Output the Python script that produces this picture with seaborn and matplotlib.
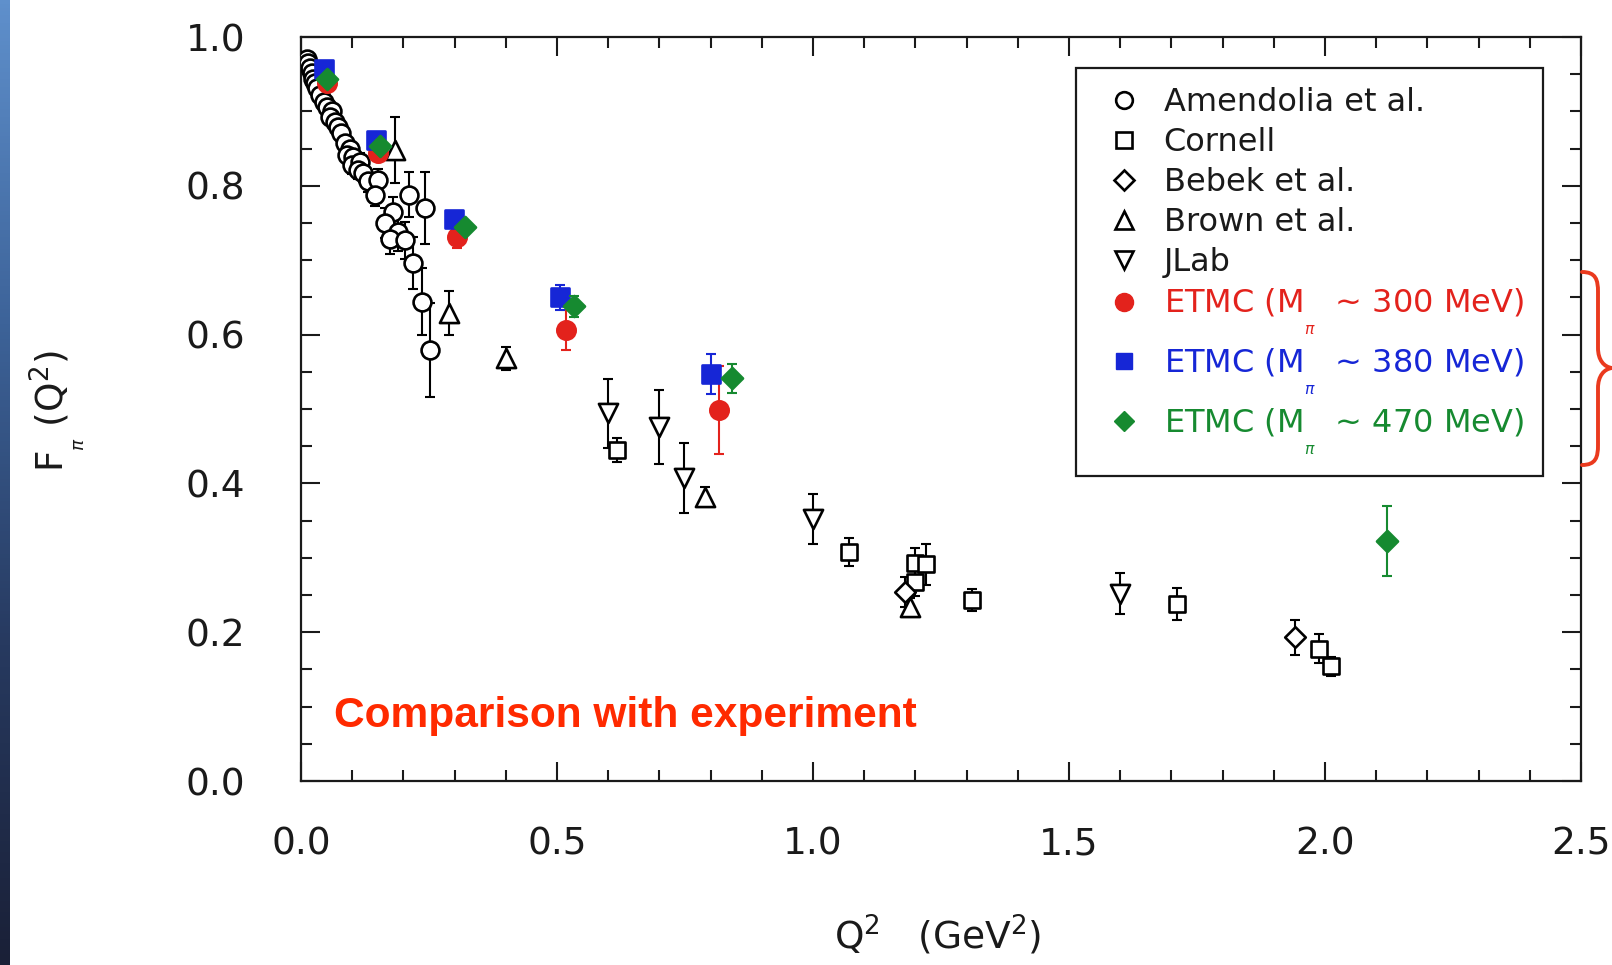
import numpy as np
import pandas as pd
import matplotlib
matplotlib.use("Agg")
import matplotlib.pyplot as plt
import seaborn as sns
from matplotlib.lines import Line2D
from matplotlib.path import Path
from matplotlib.patches import PathPatch
from matplotlib.colors import LinearSegmentedColormap

# ---------------- data ----------------
amend_q2 = [0.011, 0.014, 0.018, 0.021, 0.024, 0.027, 0.031, 0.037, 0.044, 0.050,
            0.060, 0.057, 0.066, 0.073, 0.079, 0.086, 0.096, 0.089, 0.102, 0.099,
            0.115, 0.112, 0.122, 0.131, 0.151, 0.145, 0.210, 0.242, 0.180, 0.164,
            0.190, 0.174, 0.203, 0.219, 0.236, 0.252]
amend_f = [0.971, 0.965, 0.958, 0.951, 0.944, 0.938, 0.931, 0.922, 0.913, 0.906,
           0.900, 0.893, 0.886, 0.879, 0.871, 0.857, 0.850, 0.841, 0.839, 0.828,
           0.832, 0.821, 0.817, 0.806, 0.808, 0.788, 0.788, 0.770, 0.765, 0.750,
           0.738, 0.729, 0.727, 0.696, 0.644, 0.579]
amend_err = [0.006, 0.006, 0.006, 0.006, 0.007, 0.007, 0.007, 0.008, 0.008, 0.008,
             0.010, 0.010, 0.010, 0.010, 0.010, 0.010, 0.010, 0.010, 0.010, 0.012,
             0.012, 0.012, 0.012, 0.015, 0.015, 0.015, 0.030, 0.048, 0.020, 0.020,
             0.025, 0.020, 0.025, 0.035, 0.045, 0.063]

cornell_q2 = [0.618, 1.071, 1.200, 1.220, 1.200, 1.311, 1.711, 1.989, 2.011]
cornell_f = [0.445, 0.308, 0.293, 0.291, 0.268, 0.243, 0.238, 0.178, 0.154]
cornell_err = [0.016, 0.019, 0.020, 0.027, 0.020, 0.015, 0.021, 0.020, 0.013]

bebek_q2 = [1.180, 1.941]
bebek_f = [0.254, 0.193]
bebek_err = [0.020, 0.024]

brown_q2 = [0.184, 0.289, 0.400, 0.789, 1.189]
brown_f = [0.848, 0.629, 0.568, 0.382, 0.234]
brown_err = [0.044, 0.030, 0.016, 0.013, 0.012]

jlab_q2 = [0.600, 0.699, 0.748, 1.000, 1.599]
jlab_f = [0.494, 0.476, 0.407, 0.352, 0.252]
jlab_err = [0.046, 0.050, 0.047, 0.034, 0.027]

etmc300_q2 = [0.050, 0.151, 0.305, 0.518, 0.817]
etmc300_f = [0.938, 0.844, 0.731, 0.606, 0.499]
etmc300_err = [0.008, 0.008, 0.014, 0.027, 0.059]

etmc380_q2 = [0.045, 0.146, 0.299, 0.506, 0.801]
etmc380_f = [0.957, 0.862, 0.755, 0.650, 0.547]
etmc380_err = [0.006, 0.008, 0.008, 0.017, 0.027]

etmc470_q2 = [0.051, 0.154, 0.320, 0.534, 0.841, 2.122]
etmc470_f = [0.944, 0.853, 0.744, 0.638, 0.541, 0.322]
etmc470_err = [0.006, 0.008, 0.008, 0.014, 0.020, 0.047]

series_names = ["Amendolia et al.", "Cornell", "Bebek et al.", "Brown et al.", "JLab"]
etmc_masses = ["300", "380", "470"]
x_ticks = [0.0, 0.5, 1.0, 1.5, 2.0, 2.5]
x_tick_labels = ["0.0", "0.5", "1.0", "1.5", "2.0", "2.5"]
y_ticks = [0.0, 0.2, 0.4, 0.6, 0.8, 1.0]
y_tick_labels = ["0.0", "0.2", "0.4", "0.6", "0.8", "1.0"]

RED = "#e3221c"
BLUE = "#1626d6"
GREEN = "#168a30"
INK = "#1a1a1a"

# ---------------- figure ----------------
sns.set_theme(style="ticks")
plt.rcParams["font.family"] = ["DejaVu Sans"]
plt.rcParams["mathtext.fontset"] = "dejavusans"


def mathtext_ok(s):
    f = plt.figure()
    f.text(0, 0, s, fontsize=20)
    try:
        f.canvas.draw()
        return True
    except Exception:
        return False
    finally:
        plt.close(f)


M_SUB = r"M$_{\underset{\pi}{\underset{\ }{\ }}}$"
if not mathtext_ok(M_SUB):
    M_SUB = r"M$_{\underset{\pi}{\ }}$"
legend_labels = series_names + [f"ETMC ({M_SUB}  ~ {m} MeV)" for m in etmc_masses]

W, H = 1612, 965
fig = plt.figure(figsize=(W / 100, H / 100), dpi=100)
fig.patch.set_facecolor("white")

# left gradient strip (slide decoration)
gax = fig.add_axes([0, 0, 10 / W, 1])
cmap = LinearSegmentedColormap.from_list("strip", ["#5f90cc", "#3d6399", "#273a60", "#1a2037"])
gax.imshow(np.linspace(0, 1, 256).reshape(-1, 1), aspect="auto", cmap=cmap)
gax.set_axis_off()

ax = fig.add_axes([301 / W, 1 - 781 / H, 1280 / W, 744 / H])
ax.set_facecolor("white")

cap = 3.8
elw = 1.5
mew = 1.9


def series(q2, f, err, marker, size, face, edge, ecol, z):
    ax.errorbar(q2, f, yerr=err, fmt="none", ecolor=ecol, elinewidth=elw,
                capsize=cap, capthick=elw, zorder=z)
    df = pd.DataFrame({"q2": q2, "f": f})
    sns.scatterplot(data=df, x="q2", y="f", marker=marker, s=size, color=face,
                    edgecolor=edge, linewidth=mew, ax=ax, zorder=z + 0.5, legend=False)


series(amend_q2, amend_f, amend_err, "o", 165, "white", "black", "black", 3)
series(cornell_q2, cornell_f, cornell_err, "s", 140, "white", "black", "black", 3)
series(bebek_q2, bebek_f, bebek_err, "D", 110, "white", "black", "black", 3)
series(brown_q2, brown_f, brown_err, "^", 190, "white", "black", "black", 3)
series(jlab_q2, jlab_f, jlab_err, "v", 190, "white", "black", "black", 3)
series(etmc300_q2, etmc300_f, etmc300_err, "o", 175, RED, RED, RED, 5)
series(etmc380_q2, etmc380_f, etmc380_err, "s", 150, BLUE, BLUE, BLUE, 6)
series(etmc470_q2, etmc470_f, etmc470_err, "D", 115, GREEN, GREEN, GREEN, 7)

ax.set_xlim(0, 2.5)
ax.set_ylim(0, 1.0)
ax.set_xticks(x_ticks)
ax.set_xticklabels(x_tick_labels)
ax.set_yticks(y_ticks)
ax.set_yticklabels(y_tick_labels)
ax.set_xticks(np.arange(0, 2.5001, 0.1), minor=True)
ax.set_yticks(np.arange(0, 1.0001, 0.05), minor=True)
ax.tick_params(which="both", direction="in", top=True, right=True,
               colors=INK, width=1.5)
ax.tick_params(which="major", length=14)
ax.tick_params(which="minor", length=8)
ax.tick_params(axis="y", which="major", labelsize=27, pad=40, labelcolor=INK)
ax.tick_params(axis="x", which="major", labelsize=27, pad=33, labelcolor=INK)
for sp in ax.spines.values():
    sp.set_linewidth(1.6)
    sp.set_color(INK)
    sp.set_visible(True)

ax.set_xlabel(r"Q$^{2}$   (GeV$^{2}$)", fontsize=27, color=INK)
ax.xaxis.set_label_coords((938 - 301) / 1280, (781 - 935) / 744)
ax.xaxis.label.set_va("center")
ax.set_ylabel(r"F$_{\underset{\pi}{\ }}$ (Q$^{2}$)", fontsize=27, color=INK)
ax.yaxis.set_label_coords((57 - 301) / 1280, (781 - 411) / 744)
ax.yaxis.label.set_va("center")
ax.yaxis.label.set_ha("center")

ax.text((334 - 301) / 1280, (781 - 716) / 744, "Comparison with experiment",
        transform=ax.transAxes, ha="left", va="center", fontsize=30.6,
        fontweight="bold", color="#ff2a00", family=["Liberation Sans", "DejaVu Sans"])

# legend
handles = [
    Line2D([], [], ls="none", marker="o", ms=12, mfc="white", mec="black", mew=mew),
    Line2D([], [], ls="none", marker="s", ms=11.5, mfc="white", mec="black", mew=mew),
    Line2D([], [], ls="none", marker="D", ms=10, mfc="white", mec="black", mew=mew),
    Line2D([], [], ls="none", marker="^", ms=13, mfc="white", mec="black", mew=mew),
    Line2D([], [], ls="none", marker="v", ms=13, mfc="white", mec="black", mew=mew),
    Line2D([], [], ls="none", marker="o", ms=13, mfc=RED, mec=RED),
    Line2D([], [], ls="none", marker="s", ms=12, mfc=BLUE, mec=BLUE),
    Line2D([], [], ls="none", marker="D", ms=10, mfc=GREEN, mec=GREEN),
]
leg = ax.legend(handles, legend_labels, loc="upper left",
                bbox_to_anchor=(1076 / W, 1 - 68 / H), bbox_transform=fig.transFigure,
                borderaxespad=0, fontsize=23, frameon=True, fancybox=False,
                framealpha=1, edgecolor=INK, borderpad=0.6,
                handlelength=1.8, handletextpad=0.34, labelspacing=0.28)
leg.get_frame().set_linewidth(1.6)
text_cols = [INK] * 5 + [RED, BLUE, GREEN]
for t, c in zip(leg.get_texts(), text_cols):
    t.set_color(c)

# red curly brace at the right edge (slide decoration)
def P(x, y):
    return (x / W, 1 - y / H)

verts = [P(1582, 272), P(1596, 272), P(1598, 280), P(1598, 292),
         P(1598, 348),
         P(1598, 360), P(1604, 367), P(1612, 368),
         P(1604, 369), P(1598, 376), P(1598, 388),
         P(1598, 445),
         P(1598, 457), P(1596, 465), P(1582, 465)]
codes = [Path.MOVETO, Path.CURVE4, Path.CURVE4, Path.CURVE4,
         Path.LINETO,
         Path.CURVE4, Path.CURVE4, Path.CURVE4,
         Path.CURVE4, Path.CURVE4, Path.CURVE4,
         Path.LINETO,
         Path.CURVE4, Path.CURVE4, Path.CURVE4]
fig.patches.append(PathPatch(Path(verts, codes), transform=fig.transFigure,
                             fill=False, edgecolor="#ea3a1e", linewidth=2.8,
                             capstyle="round", joinstyle="round"))

fig.savefig("out.png", dpi=100)
